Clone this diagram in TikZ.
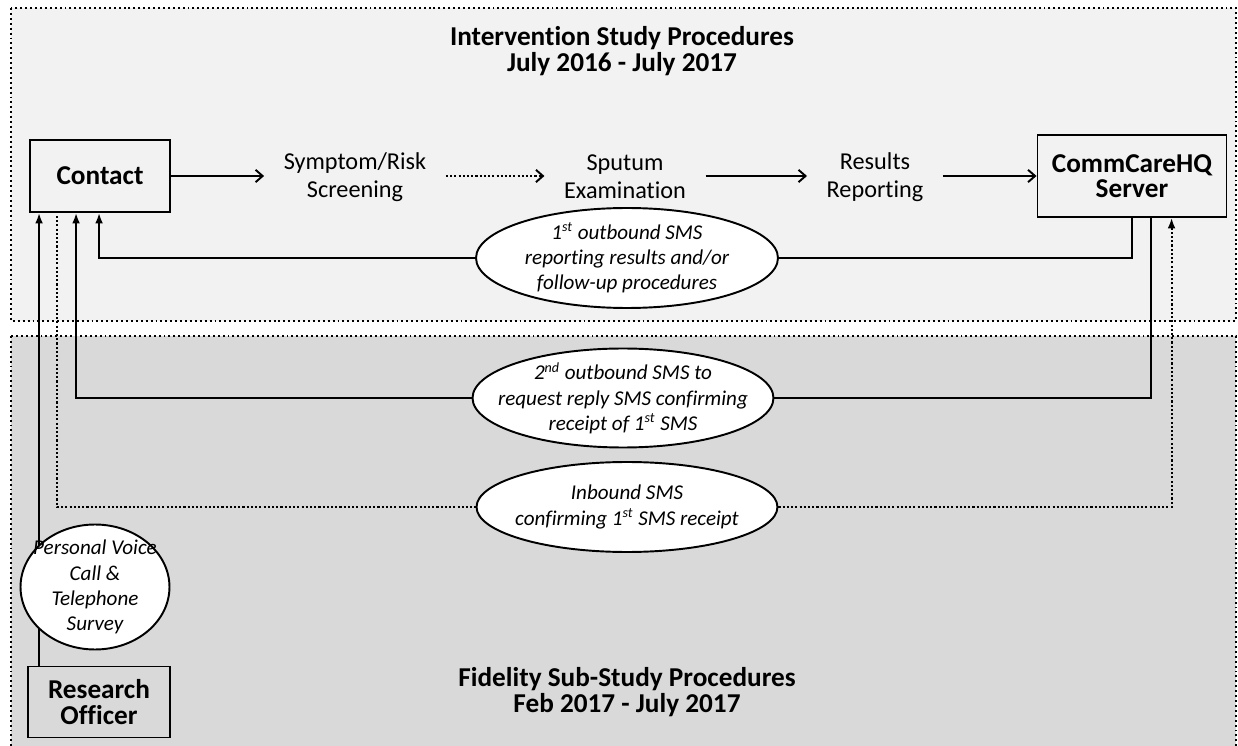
\documentclass[tikz,border=0pt]{standalone}
\usepackage{fontspec}
\setmainfont{Carlito}[Ligatures=NoCommon]
\usetikzlibrary{arrows.meta,shapes.geometric,calc}
\definecolor{bgtop}{HTML}{F2F2F2}
\definecolor{bgbot}{HTML}{D9D9D9}

\begin{document}
\begin{tikzpicture}[x=0.02cm,y=-0.02cm,
  panel/.style={line width=1.1pt,dash pattern=on 1.1pt off 1.7pt},
  title/.style={font=\fontsize{15.5}{14.5}\selectfont\bfseries,align=center},
  box/.style={draw,line width=1.1pt,font=\fontsize{15.5}{14.5}\selectfont\bfseries,align=center},
  stage/.style={font=\fontsize{13.8}{16}\selectfont,align=center,inner xsep=11pt},
  sms/.style={draw,ellipse,fill=white,line width=1.1pt,inner sep=0pt},
  smstext/.style={font=\fontsize{12}{14.3}\selectfont\itshape,align=center},
  link/.style={line width=1.1pt},
  dots/.style={dash pattern=on 1.2pt off 1.2pt},
  flow/.style={link,-{Straight Barb[length=4pt,width=7pt]}},
  up/.style={link,-{Latex[length=6pt,width=4.5pt]}}]
  \useasboundingbox (0,0) rectangle (1238,746);
  \draw[panel,fill=bgtop] (11,8) rectangle (1236,321);
  \draw[panel,fill=bgbot] (11,336) rectangle (1236,760);
  \node[title] (ttop) at (622,51) {Intervention Study Procedures\\July 2016 - July 2017};
  \node[title] (tbot) at (627,692) {Fidelity Sub-Study Procedures\\Feb 2017 - July 2017};
  \node[box,minimum width=2.8cm,minimum height=1.44cm] (contact) at (100,176) {Contact};
  \node[stage] (screen) at (355,177) {Symptom/Risk\\Screening};
  \node[stage] (sputum) at (625,177) {Sputum\\Examination};
  \node[stage] (results) at (875,177) {Results\\Reporting};
  \node[box,minimum width=3.78cm,minimum height=1.64cm] (server) at (1132,176) {CommCareHQ\\Server};
  \node[box,minimum width=2.84cm,minimum height=1.42cm] (officer) at (99,702) {Research\\Officer};
  \draw[flow] (contact) -- (contact -| screen.west);
  \draw[flow,dots] (screen.east |- contact) -- (sputum.west |- contact);
  \draw[flow] (sputum.east |- contact) -- (results.west |- contact);
  \draw[flow] (results.east |- contact) -- (server);
  \coordinate (ro) at ($(officer.north west)+(12,0)$);
  \draw[up] (ro) -- (ro |- contact.south);
  \node[sms,minimum width=2.98cm,minimum height=2.5cm,
    label={[smstext]center:{Personal Voice\\Call \&\\Telephone\\Survey}}] (voice) at (95,587) {};
  \node[sms,minimum width=6.04cm,minimum height=2cm,
    label={[smstext]center:{1\textsuperscript{st} outbound SMS\\reporting results and/or\\follow-up procedures}}] (sms1) at (627,258) {};
  \node[sms,minimum width=6.02cm,minimum height=1.98cm,
    label={[smstext]center:{2\textsuperscript{nd} outbound SMS to\\request reply SMS confirming\\receipt of 1\textsuperscript{st} SMS}}] (sms2) at (623,398) {};
  \node[sms,minimum width=6.02cm,minimum height=1.8cm,
    label={[smstext]center:{Inbound SMS\\confirming 1\textsuperscript{st} SMS receipt}}] (sms3) at (627,507) {};
  \draw[link] ($(server.south west)+(95,0)$) |- (sms1.east);
  \draw[up] (sms1.west) -| ($(contact.south west)+(70,0)$);
  \draw[link] ($(server.south west)+(114,0)$) |- (sms2.east);
  \draw[up] (sms2.west) -| ($(contact.south west)+(47,0)$);
  \draw[link,dots] ($(contact.south west)+(28,3)$) |- (sms3.west);
  \draw[up,dots] (sms3.east) -| ($(server.south west)+(135,0)$);
\end{tikzpicture}
\end{document}
